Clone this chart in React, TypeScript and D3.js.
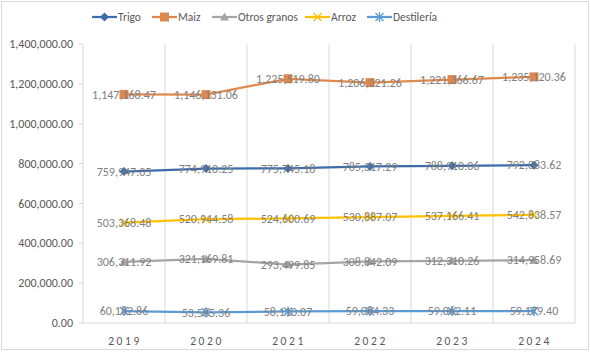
import React from "react";
import * as d3 from "d3";

const years = ["2019", "2020", "2021", "2022", "2023", "2024"];
const seriesNames = ["Trigo", "Maiz", "Otros granos", "Arroz", "Destilería"];
const trigo = [759947.05, 774910.25, 775745.18, 785317.29, 788910.06, 792083.62];
const maiz = [1147168.47, 1146131.06, 1225519.8, 1206321.26, 1221366.67, 1235120.36];
const otrosGranos = [306311.92, 321169.81, 293499.85, 308842.09, 312310.26, 314958.69];
const arroz = [503368.48, 520944.58, 524600.69, 530887.07, 537166.41, 542838.57];
const destileria = [60182.86, 53585.36, 58110.07, 59084.33, 59062.11, 59179.4];
const yTicks = [0, 200000, 400000, 600000, 800000, 1000000, 1200000, 1400000];

const colors = ["#3C6DA8", "#E0894C", "#A5A5A5", "#FFC000", "#5B9BD5"];
const markers = ["diamond", "square", "triangle", "x", "star"];
const allSeries = [trigo, maiz, otrosGranos, arroz, destileria];

const fmt = d3.format(",.2f");

function Marker({ type, x, y, color }: { type: string; x: number; y: number; color: string }) {
  if (type === "diamond") {
    return <path d={`M${x},${y - 4.5}L${x + 4.5},${y}L${x},${y + 4.5}L${x - 4.5},${y}Z`} fill={color} />;
  }
  if (type === "square") {
    return <rect x={x - 4.5} y={y - 4.5} width={9} height={9} fill={color} />;
  }
  if (type === "triangle") {
    return <path d={`M${x},${y - 4.5}L${x + 4.5},${y + 3.5}L${x - 4.5},${y + 3.5}Z`} fill={color} />;
  }
  if (type === "x") {
    return (
      <path d={`M${x - 4},${y - 4}L${x + 4},${y + 4}M${x - 4},${y + 4}L${x + 4},${y - 4}`} stroke={color} strokeWidth={1.3} />
    );
  }
  return (
    <path
      d={`M${x - 4},${y - 4}L${x + 4},${y + 4}M${x - 4},${y + 4}L${x + 4},${y - 4}M${x},${y - 5}L${x},${y + 5}`}
      stroke={color}
      strokeWidth={1.3}
    />
  );
}

export default function App() {
  const W = 590, H = 352;
  const left = 83, right = 575, top = 44, bottom = 323;
  const x = d3.scaleBand<string>().domain(years).range([left, right]);
  const y = d3.scaleLinear().domain([0, 1400000]).range([bottom, top]);
  const line = d3
    .line<number>()
    .x((_, i) => (x(years[i]) as number) + x.bandwidth() / 2)
    .y((d) => y(d));

  const legendX = [92, 152, 212, 305, 367];
  const font = "Calibri, Carlito, Lato, 'Liberation Sans', Arial, sans-serif";

  return (
    <svg width={W} height={H} style={{ position: "absolute", left: 0, top: 0, fontFamily: font }}>
      <rect x={0} y={0} width={W} height={H} fill="#fff" />
      <rect x={1.5} y={1.5} width={W - 3} height={H - 4} fill="none" stroke="#d9d9d9" />
      {years.map((yr) => (
        <line key={yr} x1={(x(yr) as number) + x.bandwidth()} x2={(x(yr) as number) + x.bandwidth()} y1={top} y2={bottom} stroke="#d9d9d9" strokeWidth={1} />
      ))}
      <line x1={left} x2={left} y1={top} y2={bottom} stroke="#d9d9d9" />
      {yTicks.map((t) => (
        <g key={t}>
          <line x1={left - 4} x2={left} y1={y(t)} y2={y(t)} stroke="#d9d9d9" />
          <text x={73} y={y(t)} dy="0.35em" textAnchor="end" fontSize={12} fill="#595959">
            {fmt(t)}
          </text>
        </g>
      ))}
      <line x1={left} x2={right} y1={bottom} y2={bottom} stroke="#d9d9d9" />
      {years.map((yr) => (
        <text key={yr} x={(x(yr) as number) + x.bandwidth() / 2 + 1} y={341} dy="0.35em" textAnchor="middle" fontSize={11.5} fill="#595959" letterSpacing={2.6}>
          {yr}
        </text>
      ))}
      {allSeries.map((s, si) => (
        <g key={si}>
          <path d={line(s) as string} fill="none" stroke={colors[si]} strokeWidth={2.25} strokeLinejoin="round" strokeLinecap="round" />
          {s.map((v, i) => (
            <Marker key={i} type={markers[si]} x={(x(years[i]) as number) + x.bandwidth() / 2} y={y(v)} color={colors[si]} />
          ))}
        </g>
      ))}
      {allSeries.map((s, si) =>
        s.map((v, i) => (
          <text key={`${si}-${i}`} x={(x(years[i]) as number) + x.bandwidth() / 2} y={y(v)} dy="0.35em" textAnchor="middle" fontSize={12} fill="#808080">
            {fmt(v)}
          </text>
        ))
      )}
      {seriesNames.map((n, i) => (
        <g key={n}>
          <line x1={legendX[i]} x2={legendX[i] + 25} y1={17} y2={17} stroke={colors[i]} strokeWidth={2.25} />
          <Marker type={markers[i]} x={legendX[i] + 12.5} y={17} color={colors[i]} />
          <text x={legendX[i] + 26} y={17} dy="0.35em" fontSize={11.5} fill="#595959">
            {n}
          </text>
        </g>
      ))}
    </svg>
  );
}
